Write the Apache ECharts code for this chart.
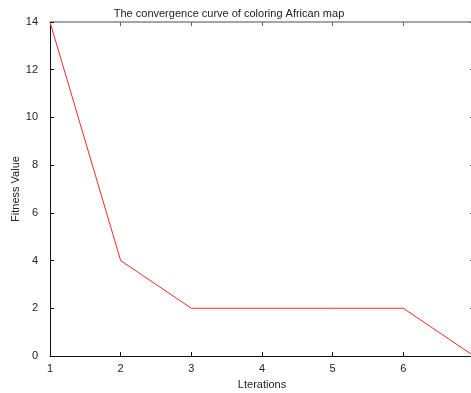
<!DOCTYPE html>
<html>
<head>
<meta charset="utf-8">
<script src="https://cdn.jsdelivr.net/npm/echarts@6/dist/echarts.min.js"></script>
<style>
    html, body { margin: 0; padding: 0; background: #fff; }
    #chart { width: 471px; height: 393px; }
</style>
</head>
<body>
<div id="chart"></div>
<script>
    // 迭代次数 / 适应度
    var iterations = [1, 2, 3, 4, 5, 6, 7];
    var fitness = [14, 4, 2, 2, 2, 2, 0];
    var yTicks = [0, 2, 4, 6, 8, 10, 12, 14];

    var font = 'Liberation Sans, Arial, sans-serif';
    var points = iterations.map(function (x, i) { return [x, fitness[i]]; });

    var chartObj = echarts.init(document.getElementById('chart'));
    var option = {
        animation: false,
        title: {
            text: 'The convergence curve of coloring African map',
            left: 224,
            top: 3,
            textAlign: 'center',
            textStyle: { fontFamily: font, fontSize: 11, fontWeight: 'normal', color: '#222' }
        },
        grid: { left: 50, right: -3, top: 22, bottom: 37, containLabel: false, outerBoundsMode: 'none' },
        xAxis: [{
            type: 'value',
            min: 1, max: 7, interval: 1,
            name: 'Lterations',
            nameLocation: 'middle',
            nameGap: 23,
            nameMoveOverlap: false,
            nameTextStyle: { fontFamily: font, fontSize: 11, color: '#222' },
            axisLine: { onZero: false, lineStyle: { color: '#111', width: 1 } },
            axisTick: { inside: true, length: 4, lineStyle: { color: '#111' } },
            axisLabel: { fontFamily: font, fontSize: 11, color: '#222', margin: 7 },
            splitLine: { show: false }
        }, {
            type: 'value',
            position: 'top',
            min: 1, max: 7, interval: 1,
            axisLine: { onZero: false, lineStyle: { color: '#888', width: 1.5 } },
            axisTick: { inside: true, length: 4, lineStyle: { color: '#666' } },
            axisLabel: { show: false },
            splitLine: { show: false }
        }],
        yAxis: [{
            type: 'value',
            min: 0, max: 14, interval: 2,
            name: 'Fitness Value',
            nameLocation: 'middle',
            nameGap: 29,
            nameMoveOverlap: false,
            nameTextStyle: { fontFamily: font, fontSize: 11, color: '#222' },
            axisLine: { show: true, onZero: false, lineStyle: { color: '#111', width: 1 } },
            axisTick: { show: true, inside: true, length: 4, lineStyle: { color: '#111' } },
            axisLabel: {
                fontFamily: font, fontSize: 11, color: '#222', margin: 12,
                formatter: function (v) { return yTicks.indexOf(v) >= 0 ? String(v) : ''; }
            },
            splitLine: { show: false }
        }, {
            type: 'value',
            position: 'right',
            min: 0, max: 14, interval: 2,
            axisLine: { show: false, onZero: false },
            axisTick: { show: true, inside: true, length: 4, lineStyle: { color: '#333' } },
            axisLabel: { show: false },
            splitLine: { show: false }
        }],
        series: [{
            type: 'line',
            data: points,
            symbol: 'none',
            clip: false,
            lineStyle: { color: '#ee2a24', width: 1 } // 红色折线
        }]
    };
    chartObj.setOption(option, true);
</script>
</body>
</html>
